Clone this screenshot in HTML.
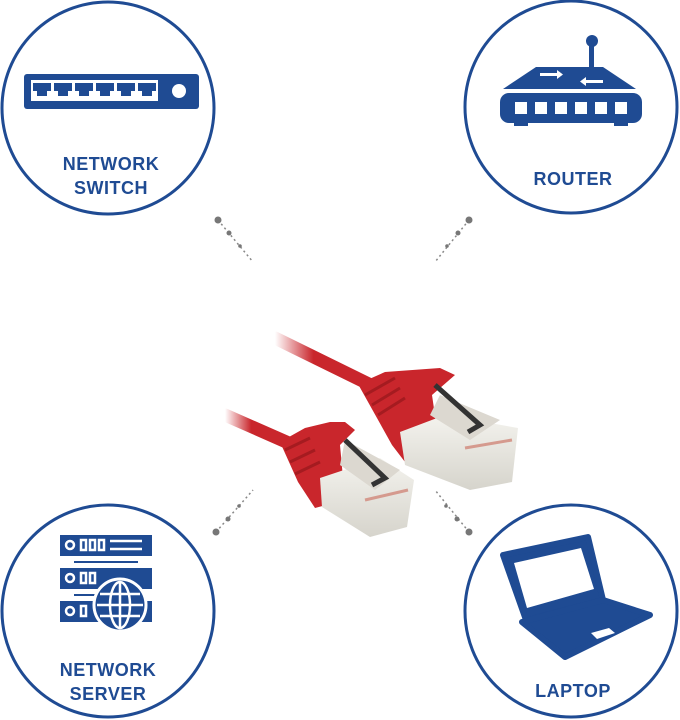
<!DOCTYPE html>
<html><head><style>
html,body{margin:0;padding:0;background:#fff;}
svg{display:block}
text{font-family:"Liberation Sans",sans-serif;font-weight:bold;fill:#1f4b93;font-size:18px;text-anchor:middle;letter-spacing:0.5px}
</style></head><body>
<svg width="680" height="720" viewBox="0 0 680 720" xmlns="http://www.w3.org/2000/svg">
<defs>
<linearGradient id="fadeA" x1="0" y1="0" x2="1" y2="0"><stop offset="0" stop-color="#c9262c" stop-opacity="0"/><stop offset="0.35" stop-color="#c9262c" stop-opacity="1"/></linearGradient>
<linearGradient id="plug" x1="0" y1="0" x2="0" y2="1"><stop offset="0" stop-color="#f4f3ee"/><stop offset="1" stop-color="#d6d4cc"/></linearGradient>
</defs>
<g fill="none" stroke="#1f4b93" stroke-width="3">
<circle cx="108" cy="108" r="106"/>
<circle cx="571" cy="107" r="106"/>
<circle cx="108" cy="611" r="106"/>
<circle cx="571" cy="611" r="106"/>
</g>
<rect x="24" y="74" width="175" height="35" rx="3" fill="#1f4b93"/>
<g fill="#fff">
<rect x="31" y="80" width="127" height="21"/>
<circle cx="179" cy="91" r="7"/>
</g>
<g fill="#1f4b93">
<path d="M33 83h18v8h-4v5h-10v-5h-4z"/><path d="M54 83h18v8h-4v5h-10v-5h-4z"/><path d="M75 83h18v8h-4v5h-10v-5h-4z"/><path d="M96 83h18v8h-4v5h-10v-5h-4z"/><path d="M117 83h18v8h-4v5h-10v-5h-4z"/><path d="M138 83h18v8h-4v5h-10v-5h-4z"/>
</g>
<text x="111" y="170">NETWORK</text>
<text x="111" y="194">SWITCH</text>
<g fill="#1f4b93">
<circle cx="592" cy="41" r="6"/>
<rect x="589" y="41" width="5" height="26"/>
<path d="M536 67h67l33 22h-133z"/>
<rect x="500" y="93" width="142" height="30" rx="9"/>
<rect x="514" y="120" width="14" height="6"/><rect x="614" y="120" width="14" height="6"/>
</g>
<g fill="#fff">
<rect x="515" y="102" width="12" height="12"/><rect x="535" y="102" width="12" height="12"/><rect x="555" y="102" width="12" height="12"/><rect x="575" y="102" width="12" height="12"/><rect x="595" y="102" width="12" height="12"/><rect x="615" y="102" width="12" height="12"/>
<path d="M540 73h17v-3l6 4.5-6 4.5v-3h-17z"/>
<path d="M603 80h-17v-3l-6 4.5 6 4.5v-3h17z"/>
</g>
<text x="573" y="185">ROUTER</text>
<g fill="#1f4b93">
<rect x="60" y="535" width="92" height="21"/>
<rect x="60" y="568" width="92" height="21"/>
<rect x="60" y="601" width="92" height="21"/>
<rect x="74" y="561" width="64" height="2"/><rect x="74" y="594" width="64" height="2"/>
</g>
<g fill="none" stroke="#fff" stroke-width="2.5">
<circle cx="70" cy="545" r="4"/><rect x="81" y="540" width="5" height="10"/><rect x="90" y="540" width="5" height="10"/><rect x="99" y="540" width="5" height="10"/>
<path d="M110 541h32M110 549h32"/>
<circle cx="70" cy="578" r="4"/><rect x="81" y="573" width="5" height="10"/><rect x="90" y="573" width="5" height="10"/>
<circle cx="70" cy="611" r="4"/><rect x="81" y="606" width="5" height="10"/>
</g>
<circle cx="120" cy="605" r="26" fill="#1f4b93" stroke="#fff" stroke-width="3"/>
<g fill="none" stroke="#fff" stroke-width="2.5">
<ellipse cx="120" cy="605" rx="10" ry="23"/><path d="M120 582v46M97 605h46M100 594h40M100 616h40"/>
</g>
<text x="108" y="676">NETWORK</text>
<text x="108" y="700">SERVER</text>
<g fill="#1f4b93" stroke="#1f4b93" stroke-width="6" stroke-linejoin="round">
<path d="M503 555L588 537L603 600L526 620Z"/>
<path d="M522 622L603 600L650 615L565 657Z"/>
</g>
<path d="M514 563L581 548L594 589L527 608Z" fill="#fff"/>
<path d="M591 633L609 628L615 633L597 639Z" fill="#fff"/>
<text x="573" y="697">LAPTOP</text>
<g stroke="#888" stroke-width="1.5" stroke-dasharray="2 3" fill="none">
<path d="M218 220L253 262M469 220L435 262M216 532L253 490M469 532L435 490"/>
</g>
<g fill="#777">
<circle cx="218" cy="220" r="3.5"/><circle cx="229" cy="233" r="2.5"/><circle cx="240" cy="246" r="1.8"/>
<circle cx="469" cy="220" r="3.5"/><circle cx="458" cy="233" r="2.5"/><circle cx="447" cy="246" r="1.8"/>
<circle cx="216" cy="532" r="3.5"/><circle cx="228" cy="519" r="2.5"/><circle cx="239" cy="506" r="1.8"/>
<circle cx="469" cy="532" r="3.5"/><circle cx="457" cy="519" r="2.5"/><circle cx="446" cy="506" r="1.8"/>
</g>
<path d="M275 338L385 392" stroke="url(#fadeA)" stroke-width="13" stroke-linecap="round"/>
<path d="M358 384L385 372L440 368L455 375L432 395L440 450L405 462L392 445Z" fill="#c9262c"/>
<path d="M365 395L395 378M372 405L400 388M378 415L405 398" stroke="#a51b20" stroke-width="3"/>
<path d="M400 432L445 415L518 428L512 482L470 490L405 465Z" fill="url(#plug)"/>
<path d="M440 395L500 420L470 440L430 415Z" fill="#dcd8d0"/>
<path d="M435 385L480 425L468 432" stroke="#333" stroke-width="5" fill="none"/>
<path d="M465 448L512 440" stroke="#d59a8e" stroke-width="3"/>
<path d="M225 415L300 448" stroke="url(#fadeA)" stroke-width="13" stroke-linecap="round"/>
<path d="M280 442L305 428L330 422L345 422L355 430L340 445L345 500L315 508L298 482Z" fill="#c9262c"/>
<path d="M285 450L310 438M290 462L315 450M295 474L320 462" stroke="#a51b20" stroke-width="3"/>
<path d="M320 478L380 458L414 480L407 527L370 537L322 507Z" fill="url(#plug)"/>
<path d="M345 440L400 470L375 490L340 465Z" fill="#dcd8d0"/>
<path d="M345 440L385 478L372 485" stroke="#333" stroke-width="5" fill="none"/>
<path d="M365 500L408 490" stroke="#d59a8e" stroke-width="3"/>
</svg>
</body></html>
